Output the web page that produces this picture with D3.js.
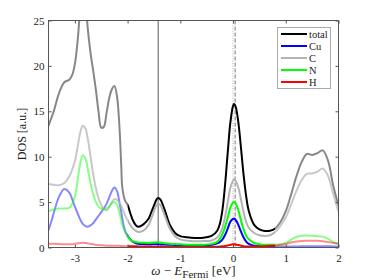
<!DOCTYPE html>
<html><head><meta charset="utf-8">
<script src="https://cdn.jsdelivr.net/npm/d3@7"></script>
<style>body{margin:0;background:#fff}svg{display:block}</style>
</head><body><svg id="c" width="374" height="280"></svg>
<script>
// ---------- data ----------
const energy = [
  -3.5,-3.45,-3.4,-3.3,-3.2,-3.1,-3.05,-3.0,
  -2.95,-2.9,-2.85,-2.8,-2.75,-2.7,-2.65,-2.6,-2.55,-2.5,
  -2.45,-2.4,-2.35,-2.3,-2.25,-2.2,-2.15,-2.12,-2.1,-2.05,-2.0,
  -1.95,-1.9,-1.85,-1.8,-1.7,-1.6,-1.55,-1.5,-1.45,-1.42,-1.38,-1.3,-1.2,-1.1,-1.0,
  -0.8,-0.6,-0.4,-0.3,-0.25,-0.2,-0.15,-0.1,-0.05,0.0,0.02,0.05,0.1,0.15,0.2,0.25,0.3,
  0.4,0.5,0.6,0.7,0.8,0.9,1.0,1.1,1.2,1.3,1.4,1.5,1.6,1.7,1.8,1.9,2.0
];
const dosTotal = [
  13.4,14.2,15.0,17.0,18.2,18.5,19.0,20.2,
  22.6,26.0,27.8,26.8,23.8,21.3,19.4,17.3,14.9,13.2,
  13.3,14.8,16.4,17.4,17.8,16.6,12.8,9.0,6.6,5.2,4.7,
  3.8,3.0,2.5,2.28,2.55,3.2,3.9,4.6,5.3,5.45,5.3,4.2,2.5,1.6,1.25,
  1.08,1.05,1.3,1.85,2.6,4.2,7.0,10.5,13.8,15.6,15.8,15.5,13.8,11.0,8.0,5.6,4.0,
  2.5,2.0,1.82,1.85,2.1,2.8,4.0,5.8,7.8,9.4,10.3,10.2,10.4,10.7,9.6,6.8,4.6
];
const dosCu = [
  1.9,2.8,3.8,5.6,6.45,6.0,5.3,4.5,
  3.8,3.1,2.6,2.35,2.3,2.45,2.7,3.1,3.5,3.9,
  4.3,4.8,5.5,6.2,6.6,6.2,4.8,3.9,3.2,1.9,1.3,
  0.9,0.65,0.5,0.42,0.38,0.36,0.35,0.35,0.35,0.35,0.34,0.32,0.3,0.28,0.27,
  0.26,0.26,0.3,0.45,0.62,0.9,1.4,2.1,2.85,3.15,3.2,3.05,2.5,1.75,1.1,0.65,0.4,
  0.2,0.13,0.1,0.1,0.1,0.12,0.12,0.12,0.12,0.13,0.14,0.14,0.14,0.14,0.13,0.12,0.1
];
const dosC = [
  7.0,6.95,6.9,6.85,7.1,7.9,8.6,9.5,
  11.0,12.6,13.4,13.1,11.8,9.9,8.0,6.5,5.4,4.7,
  4.25,4.1,4.4,5.0,5.35,5.25,4.9,4.6,4.3,3.6,3.0,
  2.5,2.1,1.85,1.72,1.85,2.5,3.2,4.0,4.7,4.85,4.7,3.6,2.1,1.25,0.9,
  0.72,0.7,0.78,1.1,1.5,2.2,3.4,5.0,6.6,7.35,7.48,7.35,6.6,5.3,3.9,2.8,2.15,
  1.6,1.35,1.28,1.35,1.7,2.4,3.3,4.7,6.2,7.4,8.1,8.15,8.35,8.7,7.9,5.9,3.9
];
const dosN = [
  4.0,4.1,4.2,4.3,4.3,4.4,4.8,5.6,
  7.3,9.2,10.15,9.8,8.5,7.0,5.8,5.0,4.5,4.3,
  4.25,4.3,4.55,4.85,5.0,4.7,3.7,3.0,2.5,1.7,1.2,
  0.85,0.68,0.6,0.55,0.52,0.5,0.52,0.55,0.58,0.58,0.55,0.48,0.42,0.38,0.35,
  0.3,0.3,0.4,0.62,0.95,1.5,2.3,3.3,4.4,4.95,5.0,4.85,4.1,3.0,2.0,1.3,0.9,
  0.5,0.37,0.3,0.3,0.3,0.35,0.5,0.85,1.15,1.3,1.32,1.3,1.25,1.2,0.95,0.6,0.4
];
const dosH = [
  0.4,0.4,0.4,0.38,0.35,0.35,0.37,0.4,
  0.45,0.5,0.52,0.5,0.45,0.4,0.35,0.3,0.27,0.25,
  0.22,0.2,0.2,0.2,0.2,0.2,0.18,0.17,0.16,0.15,0.15,
  0.15,0.14,0.13,0.12,0.11,0.1,0.1,0.09,0.09,0.09,0.08,0.08,0.07,0.06,0.05,
  0.05,0.05,0.07,0.09,0.1,0.13,0.17,0.23,0.3,0.35,0.35,0.33,0.27,0.2,0.15,0.12,0.1,
  0.1,0.12,0.15,0.18,0.22,0.3,0.4,0.55,0.65,0.72,0.75,0.75,0.75,0.7,0.6,0.5,0.45
];
const seriesNames = ["total","Cu","C","N","H"];
const xTicks = [-3,-2,-1,0,1,2];
const yTicks = [0,5,10,15,20,25];
const xDomain = [-3.5, 2];
const yDomain = [0, 25];
const highlightRange = [-2.0, 0.8];
const peakEnergy = -1.42;
const fermiEnergy = 0;
const shiftedEnergy = 0.04;

// ---------- layout ----------
const L = 48.5, R = 338.5, T = 20.5, B = 247.5;
const colors = {total:"#000000", Cu:"#0000ff", C:"#b3b3b3", N:"#00ff00", H:"#ff0000"};
const fadeOpacity = {total:0.47, Cu:0.47, C:0.72, N:0.47, H:0.45};
const seriesData = {total:dosTotal, Cu:dosCu, C:dosC, N:dosN, H:dosH};
const fontSerif = "'Liberation Serif','DejaVu Serif',serif";

const svg = d3.select("#c");
const x = d3.scaleLinear().domain(xDomain).range([L, R]);
const y = d3.scaleLinear().domain(yDomain).range([B, T]);

const defs = svg.append("defs");
defs.append("clipPath").attr("id","clipIn").append("rect")
  .attr("x", x(highlightRange[0])).attr("y", T)
  .attr("width", x(highlightRange[1]) - x(highlightRange[0])).attr("height", B - T);
const co = defs.append("clipPath").attr("id","clipOut");
co.append("rect").attr("x", L).attr("y", T).attr("width", x(highlightRange[0]) - L).attr("height", B - T);
co.append("rect").attr("x", x(highlightRange[1])).attr("y", T).attr("width", R - x(highlightRange[1])).attr("height", B - T);

// reference lines
svg.append("line").attr("x1", x(peakEnergy)).attr("x2", x(peakEnergy)).attr("y1", T).attr("y2", B)
  .attr("stroke","#333").attr("stroke-width",0.8);
svg.append("line").attr("x1", x(fermiEnergy)).attr("x2", x(fermiEnergy)).attr("y1", T).attr("y2", B)
  .attr("stroke","#999").attr("stroke-width",0.8).attr("stroke-dasharray","1,1.5");
svg.append("line").attr("x1", x(shiftedEnergy)).attr("x2", x(shiftedEnergy)).attr("y1", T).attr("y2", B)
  .attr("stroke","#555").attr("stroke-width",0.8).attr("stroke-dasharray","4,2");

const line = d3.line()
  .x((d,i) => x(energy[i]))
  .y(d => y(d))
  .curve(d3.curveCatmullRom.alpha(0.5));

const gOut = svg.append("g").attr("clip-path","url(#clipOut)");
const gIn = svg.append("g").attr("clip-path","url(#clipIn)");
seriesNames.forEach(name => {
  gOut.append("path").attr("d", line(seriesData[name]))
    .attr("fill","none").attr("stroke", colors[name]).attr("stroke-width",2)
    .attr("stroke-opacity",fadeOpacity[name]).attr("stroke-linejoin","round");
  gIn.append("path").attr("d", line(seriesData[name]))
    .attr("fill","none").attr("stroke", colors[name]).attr("stroke-width",2)
    .attr("stroke-linejoin","round");
});

// axes
const axisColor = "#555";
function styleAxis(g){
  g.select(".domain").remove();
  g.selectAll(".tick line").attr("stroke", axisColor);
  g.selectAll("text").attr("font-family", fontSerif).attr("font-size", 11).attr("fill","#222");
}
svg.append("g").attr("transform",`translate(0,${B})`)
  .call(d3.axisBottom(x).tickValues(xTicks).tickSizeInner(-3).tickSizeOuter(0).tickPadding(7).tickFormat(d3.format("d")))
  .call(styleAxis);
svg.append("g").attr("transform",`translate(0,${T})`)
  .call(d3.axisTop(x).tickValues(xTicks).tickSizeInner(-3).tickSizeOuter(0).tickFormat(""))
  .call(styleAxis);
svg.append("g").attr("transform",`translate(${L},0)`)
  .call(d3.axisLeft(y).tickValues(yTicks).tickSizeInner(-3).tickSizeOuter(0).tickPadding(4).tickFormat(d3.format("d")))
  .call(styleAxis);
svg.append("g").attr("transform",`translate(${R},0)`)
  .call(d3.axisRight(y).tickValues(yTicks).tickSizeInner(-3).tickSizeOuter(0).tickFormat(""))
  .call(styleAxis);
svg.selectAll("g.tick text").text(function(){ return d3.select(this).text().replace("−","-"); });

svg.append("rect").attr("x",L).attr("y",T).attr("width",R-L).attr("height",B-T)
  .attr("fill","none").attr("stroke",axisColor).attr("stroke-width",1);

// axis labels
const xl = svg.append("text").attr("x",(L+R)/2).attr("y",275)
  .attr("text-anchor","middle").attr("font-family",fontSerif).attr("font-size",13).attr("fill","#222");
xl.append("tspan").attr("font-style","italic").text("ω");
xl.append("tspan").text(" − ");
xl.append("tspan").attr("font-style","italic").text("E");
xl.append("tspan").attr("font-size",11).attr("dy",3).text("Fermi");
xl.append("tspan").attr("dy",-3).text(" [eV]");

svg.append("text").attr("transform",`translate(26,${(T+B)/2}) rotate(-90)`)
  .attr("text-anchor","middle").attr("font-family",fontSerif).attr("font-size",12).attr("fill","#222")
  .text("DOS [a.u.]");

// legend
const lg = svg.append("g");
lg.append("rect").attr("x",277.5).attr("y",27.5).attr("width",53).attr("height",61)
  .attr("fill","#fff").attr("stroke","#aaa").attr("stroke-width",1);
seriesNames.forEach((name,i) => {
  const yy = 34 + i*12;
  lg.append("line").attr("x1",281).attr("x2",307).attr("y1",yy).attr("y2",yy)
    .attr("stroke",colors[name]).attr("stroke-width",2);
  lg.append("text").attr("x",309).attr("y",yy).attr("dy","0.35em")
    .attr("font-family",fontSerif).attr("font-size",10.5).attr("fill","#222").text(name);
});
</script>
</body></html>
